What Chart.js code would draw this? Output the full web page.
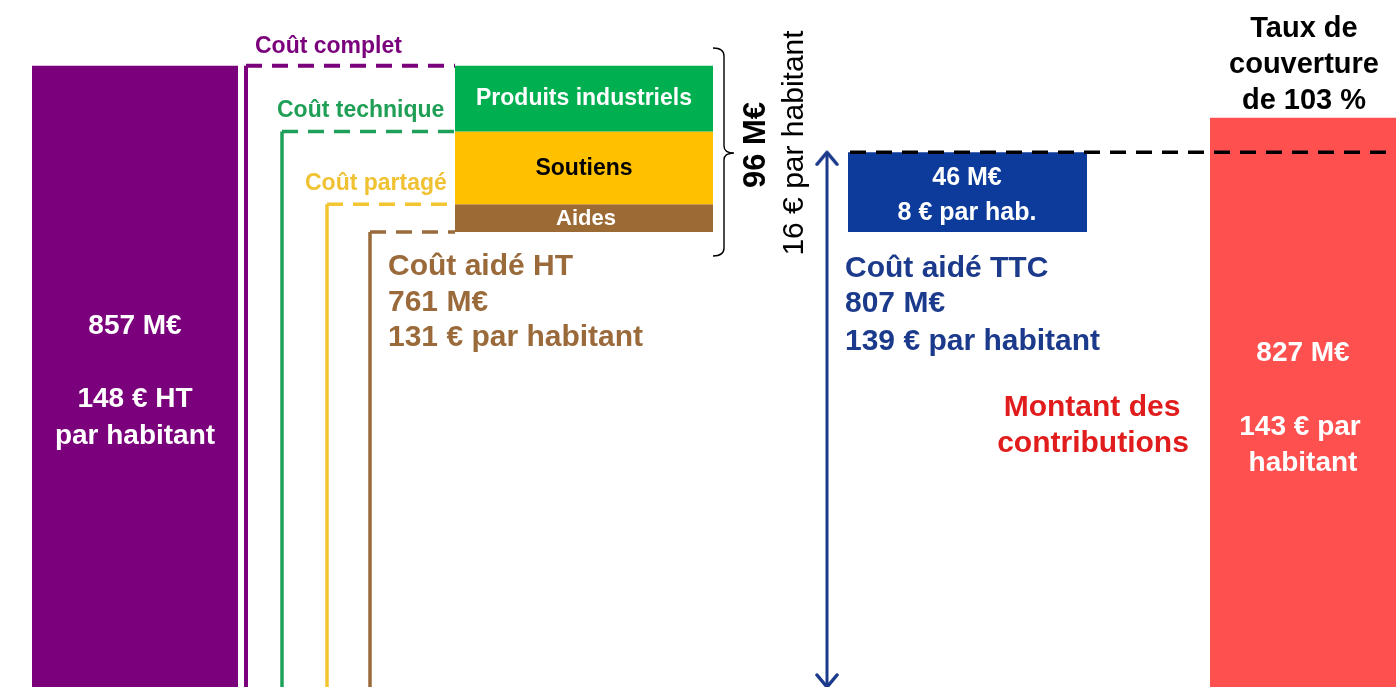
<!DOCTYPE html>
<html lang="fr">
<head>
<meta charset="utf-8">
<title>Coût du service</title>
<script src="https://cdn.jsdelivr.net/npm/chart.js@4.4.1/dist/chart.umd.min.js"></script>
<style>
  html, body { margin: 0; padding: 0; background: #ffffff; }
  #wrap { position: relative; width: 1396px; height: 687px; }
</style>
</head>
<body>
<div id="wrap"><canvas id="grafikCout"></canvas></div>
<script>
/* =======================================================
   DONNEES (M€)
======================================================= */
const levelLabels = ["Coût complet", "Coût technique", "Coût partagé", "Coût aidé HT"];
const levelValues = [857, 819, 777, 761];
const partLabels = ["Produits industriels", "Soutiens", "Aides"];
const tvaValue = [46];
const coutTTC = [807];
const contributions = [827];
const perHabitant = [148, 131, 16, 8, 139, 143];
const tauxCouverture = [103];

/* =======================================================
   MISE EN PAGE (unités de l'axe x, pas des données)
======================================================= */
const Y_MIN = 498, Y_MAX = 895;
const colPurple = [32, 238];
const levelX = [246, 282, 327, 370];
const boxX = [455, 713];
const arrowX = 827;
const tvaX = [848, 1087];
const refLineX = [850, 1396];
const redX = [1210, 1396];

const C = {
    purple: "#7b007b",
    green: "#00b050",
    greenTxt: "#1f9e55",
    yellow: "#ffc000",
    yellowTxt: "#f0c233",
    brown: "#9c6a35",
    brownTxt: "#9a6a3a",
    blue: "#0c3b9b",
    blueTxt: "#1b3a8c",
    red: "#ff5050",
    redTxt: "#e01c1c"
};
const levelColors = [C.purple, "#1ea05a", "#f2c531", "#9a6b3a"];
const partColors = [C.green, C.yellow, C.brown];

// fleche (chevron) pour les extremites
function chevron(color) {
    const cv = document.createElement("canvas");
    cv.width = 28; cv.height = 28;
    const g = cv.getContext("2d");
    g.strokeStyle = color;
    g.lineWidth = 3.5;
    g.lineCap = "round";
    g.lineJoin = "round";
    g.beginPath();
    g.moveTo(4, 26); g.lineTo(14, 14); g.lineTo(24, 26);
    g.stroke();
    return cv;
}

function rect(x0, x1, top, base, color, order) {
    return {
        data: [{ x: x0, y: top }, { x: x1, y: top }],
        backgroundColor: color,
        borderWidth: 0,
        pointRadius: 0,
        fill: base === null ? "start" : { value: base },
        order: order
    };
}

/* =======================================================
   DATASETS
======================================================= */
const datasets = [];

// colonne coût complet + colonne contributions
datasets.push(rect(colPurple[0], colPurple[1], levelValues[0], null, C.purple, 20));
datasets.push(rect(redX[0], redX[1], contributions[0], null, C.red, 20));

// décomposition des 96 M€
for (let i = 0; i < partLabels.length; i++) {
    datasets.push(rect(boxX[0], boxX[1], levelValues[i], levelValues[i + 1], partColors[i], 20));
}

// TVA
datasets.push(rect(tvaX[0], tvaX[1], coutTTC[0], levelValues[3], C.blue, 20));

// crochets des niveaux de coût
levelValues.forEach((v, i) => {
    datasets.push({
        data: [{ x: levelX[i], y: Y_MIN - 40 }, { x: levelX[i], y: v }, { x: boxX[0], y: v }],
        borderColor: levelColors[i],
        borderWidth: i === 0 ? 4 : 3.5,
        pointRadius: 0,
        fill: false,
        tension: 0,
        segment: { borderDash: ctx => ctx.p0DataIndex === 1 ? [16, 10] : [] },
        order: 5
    });
});

// ligne de référence du coût aidé TTC
datasets.push({
    data: [{ x: refLineX[0], y: coutTTC[0] }, { x: refLineX[1], y: coutTTC[0] }],
    borderColor: "#000000",
    borderWidth: 3.5,
    borderDash: [16, 10],
    pointRadius: 0,
    fill: false,
    order: 1
});

// double flèche
datasets.push({
    data: [{ x: arrowX, y: coutTTC[0] }, { x: arrowX, y: Y_MIN }],
    borderColor: C.blueTxt,
    borderWidth: 3,
    pointStyle: chevron(C.blueTxt),
    pointRadius: 5,
    pointRotation: [0, 180],
    fill: false,
    order: 2
});

/* =======================================================
   TEXTES
======================================================= */
const F = "'Liberation Sans', Arial, sans-serif";
const texts = [
    { t: `${levelValues[0]} M€`, x: 135, y: 326, s: 28, c: "#fff" },
    { t: `${perHabitant[0]} € HT`, x: 135, y: 399, s: 28, c: "#fff" },
    { t: "par habitant", x: 135, y: 436, s: 28, c: "#fff" },
    { t: levelLabels[0], x: 255, y: 47, s: 23, c: C.purple, a: "left" },
    { t: levelLabels[1], x: 277, y: 111, s: 23, c: C.greenTxt, a: "left" },
    { t: levelLabels[2], x: 305, y: 184, s: 23, c: C.yellowTxt, a: "left" },
    { t: partLabels[0], x: 584, y: 99, s: 23, c: "#fff" },
    { t: partLabels[1], x: 584, y: 169, s: 23, c: "#000" },
    { t: partLabels[2], x: 586, y: 219, s: 22, c: "#fff" },
    { t: levelLabels[3], x: 388, y: 267, s: 30, c: C.brownTxt, a: "left" },
    { t: `${levelValues[3]} M€`, x: 388, y: 303, s: 30, c: C.brownTxt, a: "left" },
    { t: `${perHabitant[1]} € par habitant`, x: 388, y: 338, s: 30, c: C.brownTxt, a: "left" },
    { t: `${levelValues[0] - levelValues[3]} M€`, x: 756, y: 145, s: 31, c: "#000", r: true },
    { t: `${perHabitant[2]} € par habitant`, x: 795, y: 143, s: 30, c: "#000", r: true, w: "normal" },
    { t: `${tvaValue[0]} M€`, x: 967, y: 178, s: 25, c: "#fff" },
    { t: `${perHabitant[3]} € par hab.`, x: 967, y: 213, s: 25, c: "#fff" },
    { t: "Coût aidé TTC", x: 845, y: 269, s: 30, c: C.blueTxt, a: "left" },
    { t: `${coutTTC[0]} M€`, x: 845, y: 304, s: 30, c: C.blueTxt, a: "left" },
    { t: `${perHabitant[4]} € par habitant`, x: 845, y: 342, s: 30, c: C.blueTxt, a: "left" },
    { t: "Montant des", x: 1092, y: 408, s: 30, c: C.redTxt },
    { t: "contributions", x: 1093, y: 444, s: 30, c: C.redTxt },
    { t: `${contributions[0]} M€`, x: 1303, y: 353, s: 28, c: "#fff" },
    { t: `${perHabitant[5]} € par`, x: 1300, y: 427, s: 28, c: "#fff" },
    { t: "habitant", x: 1303, y: 463, s: 28, c: "#fff" },
    { t: "Taux de", x: 1304, y: 29, s: 29, c: "#000" },
    { t: "couverture", x: 1304, y: 65, s: 29, c: "#000" },
    { t: `de ${tauxCouverture[0]} %`, x: 1304, y: 101, s: 29, c: "#000" }
];

const annotPlugin = {
    id: "annot",
    afterDatasetsDraw(chart) {
        const ctx = chart.ctx;
        const xs = chart.scales.x;

        // accolade
        const bx = xs.getPixelForValue(713);
        ctx.save();
        ctx.strokeStyle = "#000";
        ctx.lineWidth = 1.4;
        ctx.beginPath();
        ctx.moveTo(bx, 48);
        ctx.quadraticCurveTo(bx + 11, 48, bx + 11, 56);
        ctx.lineTo(bx + 11, 146);
        ctx.quadraticCurveTo(bx + 11, 153, bx + 21, 153);
        ctx.quadraticCurveTo(bx + 11, 153, bx + 11, 160);
        ctx.lineTo(bx + 11, 248);
        ctx.quadraticCurveTo(bx + 11, 256, bx, 256);
        ctx.stroke();
        ctx.restore();

        texts.forEach(o => {
            ctx.save();
            ctx.font = `${o.w || "bold"} ${o.s}px ${F}`;
            ctx.fillStyle = o.c;
            ctx.textAlign = o.a || "center";
            ctx.textBaseline = "middle";
            const px = xs.getPixelForValue(o.x);
            if (o.r) {
                ctx.translate(px, o.y);
                ctx.rotate(-Math.PI / 2);
                ctx.fillText(o.t, 0, 0);
            } else {
                ctx.fillText(o.t, px, o.y);
            }
            ctx.restore();
        });
    }
};

/* =======================================================
   CHART
======================================================= */
new Chart(document.getElementById("grafikCout").getContext("2d"), {
    type: "line",
    data: { datasets },
    options: {
        responsive: true,
        maintainAspectRatio: false,
        animation: false,
        events: [],
        layout: { padding: 0, autoPadding: false },
        plugins: { legend: { display: false }, tooltip: { enabled: false } },
        scales: {
            x: { type: "linear", min: 0, max: 1396, display: false },
            y: { min: Y_MIN, max: Y_MAX, display: false }
        }
    },
    plugins: [annotPlugin]
});
</script>
</body>
</html>
